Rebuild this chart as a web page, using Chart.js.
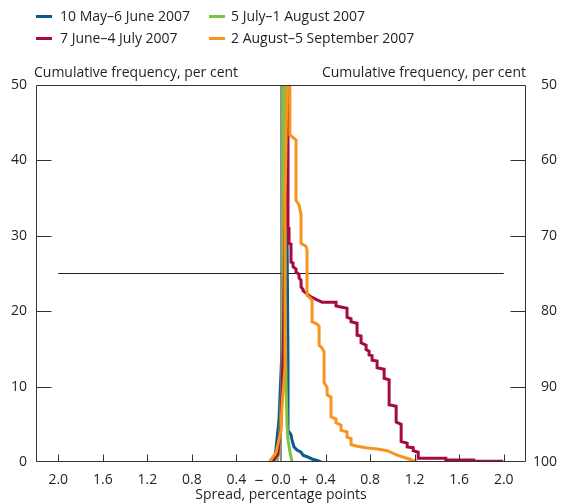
<!DOCTYPE html>
<html>
<head>
<meta charset="utf-8">
<script src="https://cdn.jsdelivr.net/npm/chart.js@4/dist/chart.umd.min.js"></script>
<style>
  html, body { margin: 0; padding: 0; background: #fff; }
  #wrap { position: relative; width: 563px; height: 504px; overflow: hidden; font-family: "Open Sans", sans-serif; color: #231f20; }
  #c { position: absolute; left: 0; top: 0; }
  .lg { position: absolute; font-size: 14px; line-height: 18px; white-space: nowrap; }
  .sw { position: absolute; width: 16px; height: 3px; }
  .ttl { position: absolute; font-size: 14px; line-height: 18px; white-space: nowrap; }
</style>
</head>
<body>
<div id="wrap">
  <canvas id="c" width="563" height="504"></canvas>
  <div class="sw" style="left:36px;top:15px;background:#0b5a8e"></div>
  <div class="lg" style="left:60px;top:7px">10 May–6 June 2007</div>
  <div class="sw" style="left:209px;top:15px;background:#7dc242"></div>
  <div class="lg" style="left:231px;top:7px">5 July–1 August 2007</div>
  <div class="sw" style="left:36px;top:37px;background:#a50b3e"></div>
  <div class="lg" style="left:60px;top:29px">7 June–4 July 2007</div>
  <div class="sw" style="left:209px;top:37px;background:#f7941e"></div>
  <div class="lg" style="left:231px;top:29px">2 August–5 September 2007</div>
  <div class="ttl" style="left:34px;top:63px">Cumulative frequency, per cent</div>
  <div class="ttl" style="right:37px;top:63px">Cumulative frequency, per cent</div>
</div>
<script>
// ---- data (spread in percentage points; folded cumulative frequency, per cent) ----
const seriesNames = ["10 May–6 June 2007", "7 June–4 July 2007", "5 July–1 August 2007", "2 August–5 September 2007"];

const blueX = [-0.075, -0.054, -0.018, 0.009, 0.027, 0.036, 0.045, 0.054, 0.063, 0.063, 0.09, 0.099, 0.117, 0.144, 0.18, 0.198, 0.234, 0.279, 0.342, 0.36];
const blueY = [0, 0.5, 5.6, 14.9, 34.7, 50, 50, 30.8, 13.5, 4.2, 3.6, 2.9, 2.0, 1.6, 1.3, 0.9, 0.7, 0.4, 0.1, 0];

const maroonX = [-0.08, -0.03, 0.0, 0.02, 0.04, 0.063, 0.063, 0.072, 0.072, 0.09, 0.09, 0.108, 0.108, 0.135, 0.135, 0.162, 0.162, 0.18, 0.18, 0.198, 0.198, 0.225, 0.27, 0.324, 0.369, 0.494, 0.494, 0.593, 0.593, 0.629, 0.629, 0.683, 0.683, 0.719, 0.719, 0.764, 0.764, 0.791, 0.791, 0.818, 0.818, 0.863, 0.863, 0.926, 0.926, 0.971, 0.971, 1.034, 1.034, 1.079, 1.079, 1.133, 1.133, 1.187, 1.187, 1.232, 1.232, 1.48, 1.48, 1.73, 1.73, 1.995];
const maroonY = [0, 1, 5, 15, 35, 50, 31.2, 31.0, 29.0, 28.9, 26.5, 26.4, 25.9, 25.6, 25.2, 24.9, 24.4, 24.1, 23.2, 22.9, 22.7, 22.4, 21.9, 21.5, 21.2, 21.2, 20.7, 20.4, 19.2, 19.0, 18.6, 18.4, 16.8, 16.7, 15.8, 15.5, 14.9, 14.7, 14.2, 14.1, 13.5, 13.4, 12.5, 12.3, 11.1, 10.9, 7.6, 7.4, 5.3, 5.0, 2.7, 2.5, 2.0, 1.9, 1.5, 1.3, 0.5, 0.5, 0.25, 0.25, 0.1, 0.1];

const greenX = [-0.035, -0.02, -0.009, 0.009, 0.018, 0.018, 0.036, 0.036, 0.045, 0.054, 0.063, 0.081, 0.1];
const greenY = [0, 1.3, 4.2, 10.9, 28.1, 50, 50, 21.5, 10.9, 4.9, 2.9, 1.3, 0];

const orangeX = [-0.105, -0.045, 0.0, 0.009, 0.036, 0.036, 0.054, 0.08, 0.08, 0.135, 0.135, 0.162, 0.18, 0.18, 0.225, 0.234, 0.234, 0.279, 0.279, 0.324, 0.342, 0.342, 0.369, 0.387, 0.387, 0.414, 0.414, 0.449, 0.449, 0.494, 0.494, 0.539, 0.539, 0.593, 0.593, 0.629, 0.629, 0.683, 0.764, 0.881, 0.953, 1.043, 1.15, 1.22];
const orangeY = [0, 1.2, 4.2, 7.3, 12.6, 34.7, 50, 50, 43.4, 42.7, 34.7, 34.1, 32.8, 29.0, 28.6, 28.1, 22.1, 21.5, 18.6, 18.3, 18.0, 15.5, 15.1, 14.6, 10.5, 9.9, 8.9, 8.6, 6.0, 5.7, 5.2, 4.9, 4.2, 4.0, 3.3, 3.1, 2.3, 2.1, 1.9, 1.7, 1.5, 0.9, 0.4, 0];

const medianLineX = [-2.0, 2.0];
const medianLineY = [25, 25];
const zeroLineX = [0, 0];
const zeroLineY = [0, 50];

const xTickValues = [-2.0, -1.6, -1.2, -0.8, -0.4, -0.2, 0, 0.2, 0.4, 0.8, 1.2, 1.6, 2.0];
const xMarkValues = [-2.0, -1.6, -1.2, -0.8, -0.4, 0.4, 0.8, 1.2, 1.6, 2.0];
const leftTicks = [0, 10, 20, 30, 40, 50];
const rightTicks = [50, 60, 70, 80, 90, 100];

// ---- build ----
const pts = (xs, ys) => xs.map((x, i) => ({ x: x, y: ys[i] }));
const TEXT = '#231f20';
const AXIS = '#333333';
const FONT = { family: '"Open Sans", sans-serif', size: 14 };
const SIGN_FONT = { family: '"Open Sans", sans-serif', size: 16 };

function xLabel(v) {
  const r = Math.round(v * 10) / 10;
  if (r === -0.2) return '−';
  if (r === 0.2) return '+';
  return Math.abs(r).toFixed(1);
}

const lineDs = (label, data, color, order, width) => ({
  label, data, borderColor: color, backgroundColor: color, borderWidth: width,
  showLine: true, pointRadius: 0, pointHoverRadius: 0, tension: 0, fill: false, order,
  borderJoinStyle: 'miter', yAxisID: 'y'
});

const boxPlugin = {
  id: 'boxTicks',
  afterDatasetsDraw(chart) {
    const { ctx, chartArea: a, scales } = chart;
    ctx.save();
    ctx.strokeStyle = AXIS;
    ctx.lineWidth = 1;
    const L = Math.round(a.left) + 0.5, R = Math.round(a.right) - 0.5;
    const T = Math.round(a.top) + 0.5, B = Math.round(a.bottom) - 0.5;
    ctx.beginPath();
    ctx.rect(L, T, R - L, B - T);
    leftTicks.forEach(v => {
      if (v === 0 || v === 50) return;
      const y = Math.round(scales.y.getPixelForValue(v)) + 0.5;
      ctx.moveTo(L, y); ctx.lineTo(L + 15, y);
    });
    rightTicks.forEach(v => {
      if (v === 50 || v === 100) return;
      const y = Math.round(scales.y2.getPixelForValue(v)) + 0.5;
      ctx.moveTo(R, y); ctx.lineTo(R - 15, y);
    });
    xMarkValues.forEach(v => {
      const x = Math.round(scales.x.getPixelForValue(v)) + 0.5;
      ctx.moveTo(x, B); ctx.lineTo(x, B - 7);
    });
    ctx.stroke();
    ctx.restore();
  }
};

new Chart(document.getElementById('c'), {
  type: 'scatter',
  data: {
    datasets: [
      lineDs(seriesNames[3], pts(orangeX, orangeY), '#f7941e', 1, 3),
      lineDs(seriesNames[1], pts(maroonX, maroonY), '#a50b3e', 2, 3),
      lineDs(seriesNames[2], pts(greenX, greenY), '#7dc242', 3, 3),
      lineDs(seriesNames[0], pts(blueX, blueY), '#0b5a8e', 4, 3),
      lineDs('median', pts(medianLineX, medianLineY), '#231f20', 6, 1),
      lineDs('zero', pts(zeroLineX, zeroLineY), '#231f20', 5, 1)
    ]
  },
  options: {
    responsive: false,
    animation: false,
    devicePixelRatio: 1,
    layout: { padding: { top: 85, right: 6, left: 0, bottom: 0 } },
    plugins: { legend: { display: false }, tooltip: { enabled: false } },
    scales: {
      x: {
        type: 'linear', min: -2.2, max: 2.2,
        afterBuildTicks: s => { s.ticks = xTickValues.map(v => ({ value: v })); },
        afterFit: s => { s.height = 42; },
        grid: { display: false, drawTicks: false },
        border: { display: false },
        ticks: {
          callback: v => xLabel(v), autoSkip: false, maxRotation: 0, padding: 10, color: TEXT,
          font: c => (c.tick && Math.abs(Math.abs(c.tick.value) - 0.2) < 1e-6) ? SIGN_FONT : FONT
        },
        title: { display: true, text: 'Spread, percentage points', color: TEXT, font: FONT, padding: { top: 0, bottom: 1 } }
      },
      y: {
        type: 'linear', position: 'left', min: 0, max: 50,
        afterBuildTicks: s => { s.ticks = leftTicks.map(v => ({ value: v })); },
        afterFit: s => { s.width = 36; },
        grid: { display: false, drawTicks: false },
        border: { display: false },
        ticks: { padding: 9, color: TEXT, font: FONT }
      },
      y2: {
        type: 'linear', position: 'right', min: 50, max: 100, reverse: true,
        afterBuildTicks: s => { s.ticks = rightTicks.map(v => ({ value: v })); },
        afterFit: s => { s.width = 31; },
        grid: { display: false, drawTicks: false },
        border: { display: false },
        ticks: { padding: 9, crossAlign: 'far', color: TEXT, font: FONT }
      }
    }
  },
  plugins: [boxPlugin]
});
</script>
</body>
</html>
